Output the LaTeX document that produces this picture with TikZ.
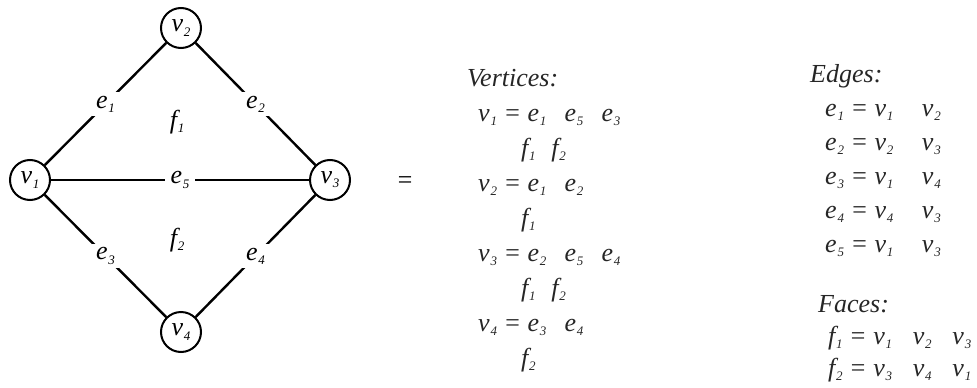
\documentclass[tikz,border=0pt]{standalone}
\usepackage{fontspec}
\setmainfont{Liberation Serif}
\usetikzlibrary{positioning}

\newcommand{\sym}[2]{\textit{#1}\kern0.03em\raisebox{-0.35ex}{\fontsize{13}{13}\selectfont\textit{#2}}}

\begin{document}
\begin{tikzpicture}[
        x=1pt, y=-1pt,
        font=\fontsize{26}{30}\selectfont\itshape,
        vertex_node/.style={draw, circle, minimum size=40pt, inner sep=0pt, line width=2pt, fill=white},
        edge_line/.style={line width=2.4pt},
        edge_label/.style={fill=white, inner sep=4pt},
        face_label/.style={inner sep=0pt},
        list_text/.style={anchor=base west, inner sep=0pt, text=black!85}
    ]
        \useasboundingbox (0,0) rectangle (977,388);

        % Graph
        \node (v1) [vertex_node] at (30,180) {\sym{v}{1}};
        \node (v2) [vertex_node] at (181,28) {\sym{v}{2}};
        \node (v3) [vertex_node] at (330,180) {\sym{v}{3}};
        \node (v4) [vertex_node] at (181,332) {\sym{v}{4}};

        \draw [edge_line] (v1) -- node[edge_label] {\sym{e}{1}} (v2);
        \draw [edge_line] (v2) -- node[edge_label] {\sym{e}{2}} (v3);
        \draw [edge_line] (v1) -- node[edge_label] {\sym{e}{3}} (v4);
        \draw [edge_line] (v4) -- node[edge_label] {\sym{e}{4}} (v3);
        \draw [edge_line] (v1) -- node[edge_label, inner sep=6pt] {\sym{e}{5}} (v3);

        \node (f1) [face_label] at (177,122) {\sym{f}{1}};
        \node (f2) [face_label] at (177,240) {\sym{f}{2}};

        \node (equals) at (405,183) {=};

        % Vertices
        \node (vert_title) [list_text] at (467,86) {Vertices:};
        \node (vert_1) [list_text] at (478,121) {\sym{v}{1} = \sym{e}{1}\hspace{0.7em}\sym{e}{5}\hspace{0.7em}\sym{e}{3}};
        \node (vert_1f) [list_text] at (521,156) {\sym{f}{1}\hspace{0.6em}\sym{f}{2}};
        \node (vert_2) [list_text] at (478,191) {\sym{v}{2} = \sym{e}{1}\hspace{0.7em}\sym{e}{2}};
        \node (vert_2f) [list_text] at (521,226) {\sym{f}{1}};
        \node (vert_3) [list_text] at (478,261) {\sym{v}{3} = \sym{e}{2}\hspace{0.7em}\sym{e}{5}\hspace{0.7em}\sym{e}{4}};
        \node (vert_3f) [list_text] at (521,296) {\sym{f}{1}\hspace{0.6em}\sym{f}{2}};
        \node (vert_4) [list_text] at (478,331) {\sym{v}{4} = \sym{e}{3}\hspace{0.7em}\sym{e}{4}};
        \node (vert_4f) [list_text] at (521,366) {\sym{f}{2}};

        % Edges
        \node (edge_title) [list_text] at (810,82) {Edges:};
        \node (edge_1) [list_text] at (825,116) {\sym{e}{1} = \sym{v}{1}\hspace{1.1em}\sym{v}{2}};
        \node (edge_2) [list_text] at (825,150) {\sym{e}{2} = \sym{v}{2}\hspace{1.1em}\sym{v}{3}};
        \node (edge_3) [list_text] at (825,184) {\sym{e}{3} = \sym{v}{1}\hspace{1.1em}\sym{v}{4}};
        \node (edge_4) [list_text] at (825,218) {\sym{e}{4} = \sym{v}{4}\hspace{1.1em}\sym{v}{3}};
        \node (edge_5) [list_text] at (825,252) {\sym{e}{5} = \sym{v}{1}\hspace{1.1em}\sym{v}{3}};

        % Faces
        \node (face_title) [list_text] at (818,312) {Faces:};
        \node (face_1) [list_text] at (828,344) {\sym{f}{1} = \sym{v}{1}\hspace{0.8em}\sym{v}{2}\hspace{0.8em}\sym{v}{3}};
        \node (face_2) [list_text] at (828,376) {\sym{f}{2} = \sym{v}{3}\hspace{0.8em}\sym{v}{4}\hspace{0.8em}\sym{v}{1}};
    \end{tikzpicture}
\end{document}
